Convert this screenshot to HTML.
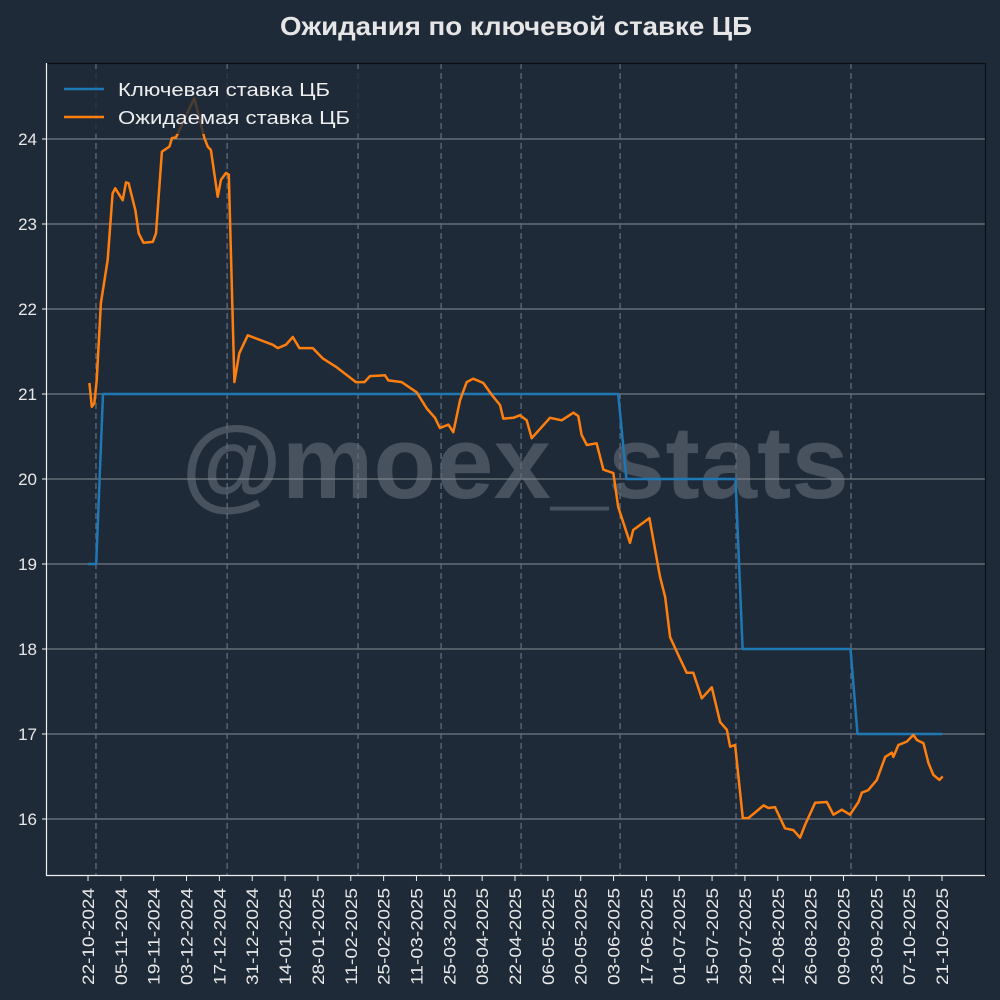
<!DOCTYPE html>
<html><head><meta charset="utf-8"><style>
html,body{margin:0;padding:0;background:#1f2a38;}
svg{display:block;font-family:"Liberation Sans","DejaVu Sans",sans-serif;}
</style></head><body>
<svg id="chart" width="1000" height="1000" viewBox="0 0 1000 1000" xmlns="http://www.w3.org/2000/svg">
<rect x="0" y="0" width="1000" height="1000" fill="#1f2a38"/>
<text x="516" y="35" text-anchor="middle" font-size="26" font-weight="bold" fill="#e6e6e6" textLength="472" lengthAdjust="spacingAndGlyphs">Ожидания по ключевой ставке ЦБ</text>
<text x="515" y="498" text-anchor="middle" font-size="103" font-weight="bold" fill="#48525f">@moex_stats</text>
<g id="grid"></g>
<g id="vlines"></g>
<g id="series"></g>
<line x1="46" y1="63.5" x2="985" y2="63.5" stroke="#0b0f14" stroke-width="1.2"/>
<line x1="985.5" y1="63" x2="985.5" y2="876" stroke="#0b0f14" stroke-width="1.2"/>
<line x1="46.5" y1="63" x2="46.5" y2="876" stroke="#f0f0f0" stroke-width="1.2"/>
<line x1="46" y1="875.5" x2="985" y2="875.5" stroke="#f0f0f0" stroke-width="1.2"/>
<g id="yaxis"></g>
<g id="xaxis"></g>
<g>
<rect x="55" y="72" width="305" height="62" rx="4" fill="#1f2a38" fill-opacity="0.8"/>
<line x1="64" y1="89" x2="104" y2="89" stroke="#1f77b4" stroke-width="2.5"/>
<text x="118" y="96" font-size="18" fill="#eeeeee" textLength="212" lengthAdjust="spacingAndGlyphs">Ключевая ставка ЦБ</text>
<line x1="64" y1="117" x2="104" y2="117" stroke="#ff7f0e" stroke-width="2.5"/>
<text x="118" y="124" font-size="18" fill="#eeeeee" textLength="232" lengthAdjust="spacingAndGlyphs">Ожидаемая ставка ЦБ</text>
</g>
</svg>
<script>
const yTicks = [16,17,18,19,20,21,22,23,24];
const xTickLabels = ["22-10-2024","05-11-2024","19-11-2024","03-12-2024","17-12-2024","31-12-2024","14-01-2025","28-01-2025","11-02-2025","25-02-2025","11-03-2025","25-03-2025","08-04-2025","22-04-2025","06-05-2025","20-05-2025","03-06-2025","17-06-2025","01-07-2025","15-07-2025","29-07-2025","12-08-2025","26-08-2025","09-09-2025","23-09-2025","07-10-2025","21-10-2025"];
const meetingDays = [3.4,59.3,115.1,150.5,184.6,226.8,276.2,325.2];
const keyDays = [0,3.5,6.4,226,229.5,276,279,325,328,364];
const keyVals = [19,19,21,21,20,20,18,18,17,17];
const expDays = [0.6,1.6,2.7,3.7,5.5,8.4,10.5,11.6,14.8,16.2,17.3,20.2,21.6,23.6,27.6,29,31.5,34.7,35.8,37.5,45.3,49.6,51,52.4,55.3,56.7,58.8,60,62.4,64.5,68.1,78.7,80.9,84.4,87.3,90.1,95.8,100,105.7,114.2,117.8,120.2,126.6,128,133.7,140.1,144.4,147.9,150,153.6,155.7,158.6,161.4,164.2,168.5,172.1,175.6,177,181.3,184.1,187,189.1,196.9,201.9,206.9,209,210.4,212.6,216.8,219.7,223.9,226,231,232.4,239.3,243.8,246,248.1,251.6,255.2,258,261.6,265.9,269.4,272.3,273.7,275.8,279.1,281.5,287.9,290,292.8,297.1,300.6,303.5,305.6,309.9,314.9,317.7,321.3,324.8,328.4,329.8,332.6,336.2,339.8,342.6,343.3,345.4,349,351.8,353.3,356.1,358.2,360.3,362.9,364.3];
const expVals = [21.13,20.85,20.89,21.16,22.07,22.58,23.36,23.42,23.28,23.49,23.48,23.16,22.89,22.78,22.79,22.89,23.85,23.91,24.01,24.02,24.48,24.01,23.91,23.87,23.32,23.52,23.6,23.58,21.14,21.48,21.69,21.58,21.54,21.58,21.67,21.54,21.54,21.42,21.32,21.14,21.14,21.21,21.22,21.16,21.14,21.02,20.83,20.72,20.6,20.64,20.55,20.93,21.14,21.18,21.13,20.99,20.87,20.71,20.72,20.75,20.69,20.48,20.72,20.69,20.78,20.74,20.52,20.4,20.42,20.11,20.07,19.67,19.25,19.4,19.54,18.85,18.61,18.14,17.93,17.72,17.72,17.42,17.55,17.14,17.05,16.85,16.87,16.01,16.01,16.16,16.13,16.14,15.89,15.87,15.78,15.93,16.19,16.2,16.05,16.11,16.05,16.2,16.31,16.34,16.46,16.73,16.78,16.73,16.87,16.91,16.99,16.93,16.89,16.66,16.52,16.46,16.5];

const NS = "http://www.w3.org/2000/svg";
function xS(d){ return 88 + d * 854 / 364; }
function yS(v){ return 819 - (v - 16) * 85; }
function mk(tag, attrs, parent){ const e = document.createElementNS(NS, tag); for (const k in attrs) e.setAttribute(k, attrs[k]); parent.appendChild(e); return e; }

const grid = document.getElementById('grid');
const yaxis = document.getElementById('yaxis');
yTicks.forEach(v => {
  const g = mk('line', {x1:46, x2:985, y1:yS(v), y2:yS(v), stroke:'#868d96', 'stroke-width':0.9}, grid);
  
  
  const t = mk('line', {x1:42, x2:46, y1:yS(v), y2:yS(v), stroke:'#f0f0f0', 'stroke-width':1}, yaxis);
  
  
  const l = mk('text', {x:37, y:yS(v) + 6, 'text-anchor':'end', 'font-size':17, fill:'#e8e8e8'}, yaxis);
  l.textContent = v;
  
  
});

const vl = document.getElementById('vlines');
meetingDays.forEach(d => {
  const e = mk('line', {x1:xS(d), x2:xS(d), y1:63, y2:875, stroke:'#5f6b7a', 'stroke-width':1.3, 'stroke-dasharray':'6,4'}, vl);
  
  
});

const xaxis = document.getElementById('xaxis');
xTickLabels.forEach((s, i) => {
  const x = xS(i * 14);
  const t = mk('line', {x1:x, x2:x, y1:876, y2:881, stroke:'#f0f0f0', 'stroke-width':1}, xaxis);
  
  
  const l = mk('text', {x:0, y:0, 'text-anchor':'end', 'font-size':17, fill:'#e8e8e8', textLength:97, lengthAdjust:'spacingAndGlyphs', transform:'translate(' + (x + 6) + ',888) rotate(-90)'}, xaxis);
  l.textContent = s;
  
  
});

const series = document.getElementById('series');
const kp = keyDays.map((d, i) => xS(d).toFixed(1) + ',' + yS(keyVals[i]).toFixed(1)).join(' ');
const kl = mk('polyline', {points:kp, fill:'none', stroke:'#1f77b4', 'stroke-width':2.5, 'stroke-linejoin':'round'}, series);


const ep = expDays.map((d, i) => xS(d).toFixed(1) + ',' + yS(expVals[i]).toFixed(1)).join(' ');
const el = mk('polyline', {points:ep, fill:'none', stroke:'#ff7f0e', 'stroke-width':2.5, 'stroke-linejoin':'round'}, series);


</script>
</body></html>
